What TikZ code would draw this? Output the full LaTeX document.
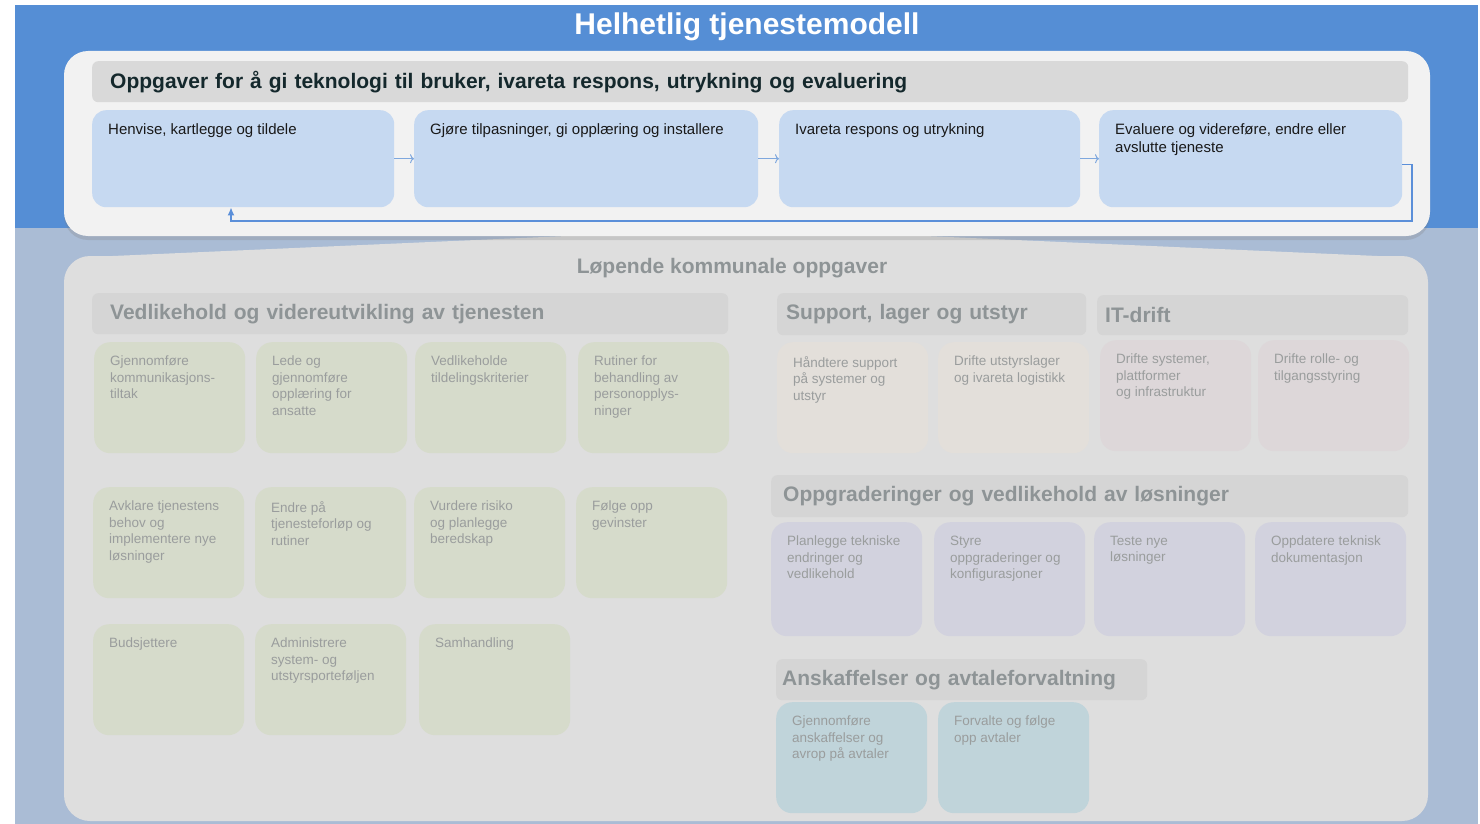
\documentclass[tikz,border=0pt]{standalone}
\usepackage{fontspec}
\setmainfont{Liberation Sans}
\usetikzlibrary{arrows.meta,shadows}

\definecolor{bandblue}{HTML}{558ED5}
\definecolor{lowblue}{HTML}{AABCD5}
\definecolor{panelwhite}{HTML}{F2F2F2}
\definecolor{headgray}{HTML}{D9D9D9}
\definecolor{stepblue}{HTML}{C6D9F1}
\definecolor{headtext}{HTML}{14282C}
\definecolor{flowblue}{HTML}{7FA8DE}
\definecolor{loopblue}{HTML}{5B8FD9}
\definecolor{panelgray}{HTML}{DEDEDE}
\definecolor{secgray}{HTML}{D5D5D5}
\definecolor{sectext}{HTML}{8E9496}
\definecolor{tasktext}{HTML}{9A9D9D}
\definecolor{taskgreen}{HTML}{D6DBCB}
\definecolor{taskbeige}{HTML}{E3DFDA}
\definecolor{taskpink}{HTML}{DDD7D9}
\definecolor{tasklilac}{HTML}{D2D2DE}
\definecolor{taskteal}{HTML}{C0D4DA}

\newcommand\tasklines[2][83pt]{\parbox[t][#1][t]{119pt}{\raggedright #2}}
\newcommand\steplines[2]{\parbox[t][71pt][t]{#1}{\raggedright #2}}

\begin{document}
\begin{tikzpicture}[x=1pt,y=-1pt,
  stepbox/.style={anchor=north west, fill=stepblue, rounded corners=14pt, inner xsep=16pt, inner ysep=13pt, text=black!90, font=\fontsize{15}{18}\selectfont},
  secbar/.style={anchor=north west, fill=secgray, rounded corners=6pt, inner ysep=0pt, minimum height=41pt, align=left, text=sectext, font=\bfseries\fontsize{21}{24}\selectfont},
  taskbox/.style={anchor=north west, rounded corners=16pt, inner xsep=16pt, inner ysep=14pt, text=tasktext, font=\fontsize{13.5}{16.5}\selectfont},
  flowarrow/.style={draw=flowblue, line width=1pt, -{To[length=4pt,width=9pt]}},
  feedback/.style={draw=loopblue, line width=1.4pt, -{Latex[length=8pt,width=7pt]}}]

\useasboundingbox (0,0) rectangle (1480,824);
\fill[white] (0,0) rectangle (1480,824);
\fill[bandblue] (15,5) rectangle (1478,228);
\fill[lowblue] (15,228) rectangle (1478,824);

\fill[panelgray] (90,257) -- (703,230) -- (790,230) -- (1400,257) -- cycle;
\fill[panelgray, rounded corners=26pt] (64,256) rectangle (1428,821);
\path[fill=panelwhite, rounded corners=24pt, drop shadow={opacity=0.25, shadow xshift=0pt, shadow yshift=-4pt}] (64,51) rectangle (1430,236);

\node[text=white, font=\bfseries\fontsize{30}{34}\selectfont] (title) at (747,27) {Helhetlig tjenestemodell};
\node[anchor=north west, fill=headgray, rounded corners=6pt, inner xsep=18pt, inner ysep=0pt, minimum height=41pt, text width=1280pt, align=left, text=headtext, font=\bfseries\fontsize{21}{24}\selectfont] (head) at (92,61) {Oppgaver for å gi teknologi til bruker, ivareta respons, utrykning og evaluering};

\node[stepbox] (s1) at (92,110) {\steplines{270pt}{Henvise, kartlegge og tildele}};
\node[stepbox] (s2) at (414,110) {\steplines{312pt}{Gjøre tilpasninger, gi opplæring og installere}};
\node[stepbox] (s3) at (779,110) {\steplines{269pt}{Ivareta respons og utrykning}};
\node[stepbox] (s4) at (1099,110) {\steplines{271pt}{Evaluere og videreføre, endre eller\\avslutte tjeneste}};

\draw[flowarrow] (s1) -- (s2);
\draw[flowarrow] (s2) -- (s3);
\draw[flowarrow] (s3) -- (s4);

\coordinate (fbR) at (1412,221);
\coordinate (fbL) at (231,221);
\draw[feedback] ([yshift=-6pt]s4.east) -| (fbR) -- (fbL) -- (s1.south -| fbL);

\node[text=sectext, font=\bfseries\fontsize{21}{24}\selectfont] (lop) at (732,268) {Løpende kommunale oppgaver};

\node[secbar, text width=600pt, inner xsep=18pt] (vbar) at (92,293) {Vedlikehold og videreutvikling av tjenesten};
\node[secbar, text width=291pt, inner xsep=9pt, minimum height=42pt] (sbar) at (777,293) {Support, lager og utstyr};
\node[secbar, text width=295pt, inner xsep=8pt, minimum height=40pt] (ibar) at (1097,295) {IT-drift};
\node[secbar, text width=613pt, inner xsep=12pt, minimum height=42pt] (obar) at (771,475) {Oppgraderinger og vedlikehold av løsninger};
\node[secbar, text width=359pt, inner xsep=6pt] (abar) at (776,659) {Anskaffelser og avtaleforvaltning};

\node[taskbox, fill=taskgreen] (v1) at (94,342) {\tasklines{Gjennomføre\\kommunikasjons-\\tiltak}};
\node[taskbox, fill=taskgreen] (v2) at (256,342) {\tasklines{Lede og\\gjennomføre\\opplæring for\\ansatte}};
\node[taskbox, fill=taskgreen] (v3) at (415,342) {\tasklines{Vedlikeholde\\tildelingskriterier}};
\node[taskbox, fill=taskgreen] (v4) at (578,342) {\tasklines{Rutiner for\\behandling av\\personopplys-\\ninger}};

\node[taskbox, fill=taskgreen] (v5) at (93,487) {\tasklines{Avklare tjenestens\\behov og\\implementere nye\\løsninger}};
\node[taskbox, fill=taskgreen] (v6) at (255,487) {\tasklines{Endre på\\tjenesteforløp og\\rutiner}};
\node[taskbox, fill=taskgreen] (v7) at (414,487) {\tasklines{Vurdere risiko\\og planlegge\\beredskap}};
\node[taskbox, fill=taskgreen] (v8) at (576,487) {\tasklines{Følge opp\\gevinster}};

\node[taskbox, fill=taskgreen] (v9) at (93,624) {\tasklines{Budsjettere}};
\node[taskbox, fill=taskgreen] (v10) at (255,624) {\tasklines{Administrere\\system- og\\utstyrsporteføljen}};
\node[taskbox, fill=taskgreen] (v11) at (419,624) {\tasklines{Samhandling}};

\node[taskbox, fill=taskbeige] (su1) at (777,342) {\tasklines{Håndtere support\\på systemer og\\utstyr}};
\node[taskbox, fill=taskbeige] (su2) at (938,342) {\tasklines{Drifte utstyrslager\\og ivareta logistikk}};

\node[taskbox, fill=taskpink] (it1) at (1100,340) {\tasklines{Drifte systemer,\\plattformer\\og infrastruktur}};
\node[taskbox, fill=taskpink] (it2) at (1258,340) {\tasklines{Drifte rolle- og\\tilgangsstyring}};

\node[taskbox, fill=tasklilac] (op1) at (771,522) {\tasklines[86pt]{Planlegge tekniske\\endringer og\\vedlikehold}};
\node[taskbox, fill=tasklilac] (op2) at (934,522) {\tasklines[86pt]{Styre\\oppgraderinger og\\konfigurasjoner}};
\node[taskbox, fill=tasklilac] (op3) at (1094,522) {\tasklines[86pt]{Teste nye\\løsninger}};
\node[taskbox, fill=tasklilac] (op4) at (1255,522) {\tasklines[86pt]{Oppdatere teknisk\\dokumentasjon}};

\node[taskbox, fill=taskteal] (an1) at (776,702) {\tasklines{Gjennomføre\\anskaffelser og\\avrop på avtaler}};
\node[taskbox, fill=taskteal] (an2) at (938,702) {\tasklines{Forvalte og følge\\opp avtaler}};
\end{tikzpicture}
\end{document}
